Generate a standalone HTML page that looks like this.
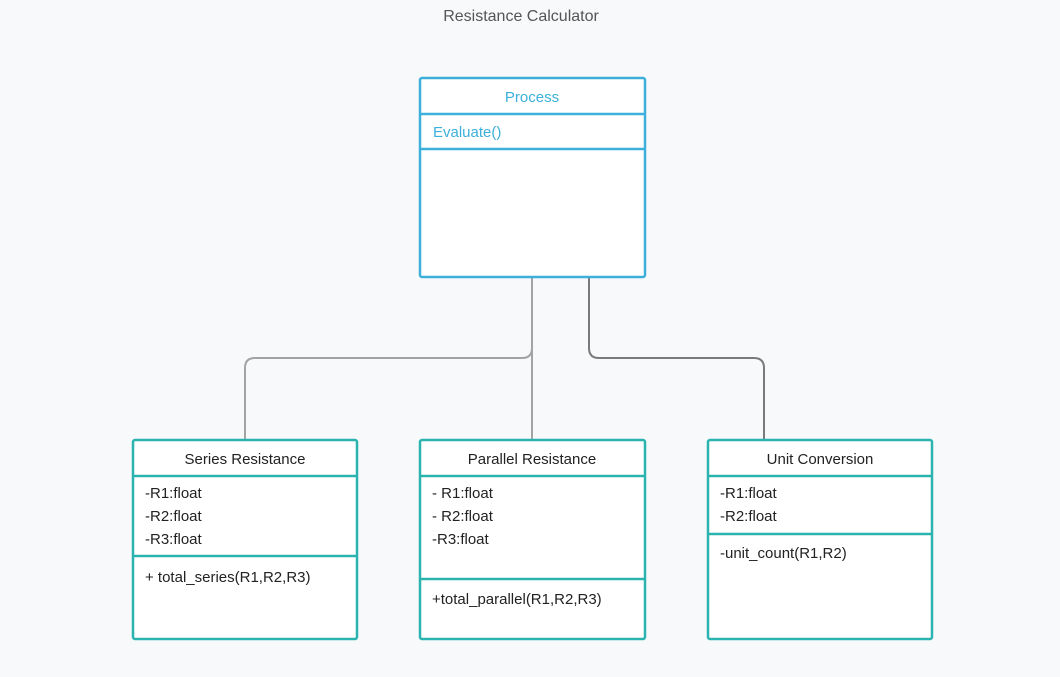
<!DOCTYPE html>
<html><head><style>body{margin:0;background:#f8f9fb;}svg{display:block}text{font-family:"Liberation Sans",sans-serif;}</style></head>
<body>
<svg width="1060" height="677" viewBox="0 0 1060 677">
<rect width="1060" height="677" fill="#f8f9fb"/>
<text x="521" y="21" text-anchor="middle" font-size="16" fill="#555">Resistance Calculator</text>
<g fill="none" stroke-width="2">
<path d="M532 277 V348 Q532 358 522 358 H255 Q245 358 245 368 V440" stroke="#a3a3a3"/>
<path d="M532 277 V440" stroke="#a3a3a3"/>
<path d="M589 277 V348 Q589 358 599 358 H754 Q764 358 764 368 V440" stroke="#7a7a7a"/>
</g>
<g stroke="#3cb0da" stroke-width="2.5" fill="#fff">
<rect x="420" y="78" width="225" height="199" rx="2"/>
<line x1="420" y1="114" x2="645" y2="114"/>
<line x1="420" y1="149" x2="645" y2="149"/>
</g>
<text x="532" y="102" text-anchor="middle" font-size="15" fill="#3cb0da">Process</text>
<text x="433" y="137" font-size="15" fill="#3cb0da">Evaluate()</text>
<g stroke="#2bb3b0" stroke-width="2.5" fill="#fff">
<rect x="133" y="440" width="224" height="199" rx="2"/>
<line x1="133" y1="476" x2="357" y2="476"/>
<line x1="133" y1="556" x2="357" y2="556"/>
<rect x="420" y="440" width="225" height="199" rx="2"/>
<line x1="420" y1="476" x2="645" y2="476"/>
<line x1="420" y1="579" x2="645" y2="579"/>
<rect x="708" y="440" width="224" height="199" rx="2"/>
<line x1="708" y1="476" x2="932" y2="476"/>
<line x1="708" y1="534" x2="932" y2="534"/>
</g>
<g font-size="15" fill="#222">
<text x="245" y="464" text-anchor="middle">Series Resistance</text>
<text x="145" y="498">-R1:float</text>
<text x="145" y="521">-R2:float</text>
<text x="145" y="544">-R3:float</text>
<text x="145" y="582">+  total_series(R1,R2,R3)</text>
<text x="532" y="464" text-anchor="middle">Parallel Resistance</text>
<text x="432" y="498">- R1:float</text>
<text x="432" y="521">- R2:float</text>
<text x="432" y="544">-R3:float</text>
<text x="432" y="604">+total_parallel(R1,R2,R3)</text>
<text x="820" y="464" text-anchor="middle">Unit Conversion</text>
<text x="720" y="498">-R1:float</text>
<text x="720" y="521">-R2:float</text>
<text x="720" y="558">-unit_count(R1,R2)</text>
</g>
</svg>
</body></html>
